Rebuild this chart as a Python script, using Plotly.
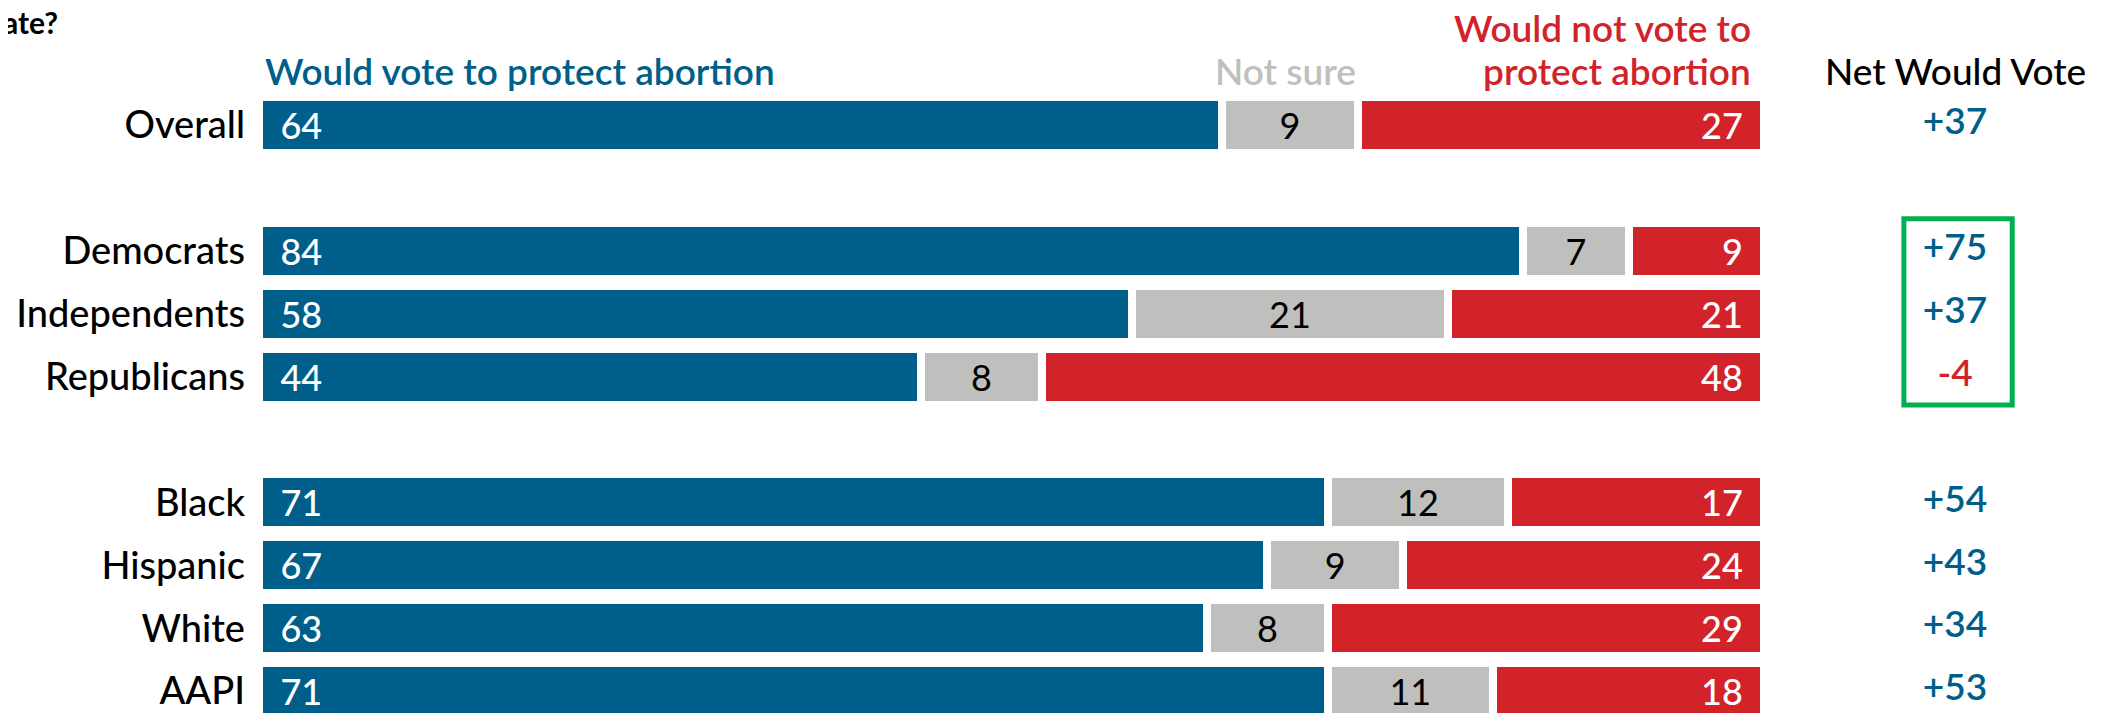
import plotly.graph_objects as go

# survey results, percent
groups = ["Overall", "Democrats", "Independents", "Republicans",
          "Black", "Hispanic", "White", "AAPI"]
section = [0, 1, 1, 1, 2, 2, 2, 2]
would_vote = [64, 84, 58, 44, 71, 67, 63, 71]
not_sure = [9, 7, 21, 8, 12, 9, 8, 11]
would_not_vote = [27, 9, 21, 48, 17, 24, 29, 18]

BLUE = "#005f8a"
GREY = "#bfbfbd"
RED = "#d2232a"
GREEN = "#00b050"
FONT = "Lato"
NBSP = "\u00a0"

# one blank row between sections
rows = [i + s for i, s in enumerate(section)]
net = [w - n for w, n in zip(would_vote, would_not_vote)]

fig = go.Figure()

segments = [
    (would_vote, BLUE, "white", "start", 500, NBSP + NBSP + "{}"),
    (not_sure, GREY, "black", "middle", 400, "{}"),
    (would_not_vote, RED, "white", "end", 500, "{}" + NBSP + NBSP),
]
for vals, color, txtcolor, anchor, weight, fmt in segments:
    fig.add_trace(go.Bar(
        x=vals, y=rows, orientation="h",
        marker=dict(color=color, line=dict(color="white", width=8)),
        width=0.89,
        text=[fmt.format(v) for v in vals],
        textposition="inside", insidetextanchor=anchor,
        textfont=dict(family=FONT, size=36, color=txtcolor, weight=weight),
        hoverinfo="skip", showlegend=False,
    ))

# net column
fig.add_trace(go.Scatter(
    x=[112.7] * len(rows), y=rows, mode="text",
    text=[f"{v:+d}" for v in net],
    textfont=dict(family=FONT, size=37, weight=600,
                  color=[BLUE if v >= 0 else RED for v in net]),
    cliponaxis=False, hoverinfo="skip", showlegend=False,
))

head_y = -0.477
annotations = [
    dict(x=0.25, y=head_y, text="Would vote to protect abortion", xanchor="left",
         font=dict(color=BLUE, size=37, weight=600)),
    dict(x=73.0, y=head_y, text="Not sure", xanchor="right",
         font=dict(color=GREY, size=37, weight=600)),
    dict(x=99.3, y=head_y - 0.684, text="Would not vote to", xanchor="right",
         font=dict(color=RED, size=37, weight=600)),
    dict(x=99.3, y=head_y, text="protect abortion", xanchor="right",
         font=dict(color=RED, size=37, weight=600)),
    dict(x=112.7, y=head_y, text="Net Would Vote", xanchor="center",
         font=dict(color="black", size=37, weight=500)),
]
for a in annotations:
    a.update(xref="x", yref="y", yanchor="bottom", showarrow=False)
    a["font"]["family"] = FONT
    fig.add_annotation(**a)

# tail of the cropped question title
fig.add_annotation(x=-0.1015, y=1 - 14 / 705, xref="paper", yref="paper",
                   xanchor="right", yanchor="middle", showarrow=False,
                   text="<b>ate?</b>",
                   font=dict(family=FONT, size=30, color="black"))

# highlight box around party net values
fig.add_shape(type="rect", xref="x", yref="y",
              x0=109.3, x1=116.5, y0=1.49, y1=4.45,
              line=dict(color=GREEN, width=5))

fig.update_layout(
    width=2110, height=705,
    barmode="stack",
    margin=dict(l=242, r=0, t=0, b=0),
    paper_bgcolor="white", plot_bgcolor="white",
    xaxis=dict(range=[-0.618, 123.53], visible=False, fixedrange=True),
    yaxis=dict(range=[9.348, -1.860], tickvals=rows, ticktext=groups,
               showgrid=False, zeroline=False, ticks="",
               ticklabelstandoff=4,
               tickfont=dict(family=FONT, size=38, color="black", weight=500)),
)

fig.write_html("out.html")
